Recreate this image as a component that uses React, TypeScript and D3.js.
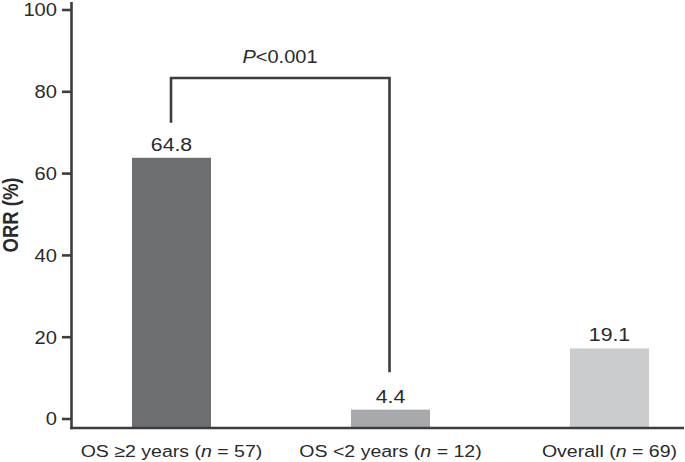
import React from "react";
import * as d3 from "d3";

const categories = ["OS \u22652 years", "OS <2 years", "Overall"];
const sampleSizes = [57, 12, 69];
const orrValues = [64.8, 4.4, 19.1];
const valueLabels = ["64.8", "4.4", "19.1"];
const barColors = ["#6d6e71", "#a7a9ac", "#cbcccd"];
const yTicks = [0, 20, 40, 60, 80, 100];
const pLabel = "<0.001";

const W = 685;
const H = 462;
const SX = 1.15;
const FONT = "'Liberation Sans', Arial, Helvetica, sans-serif";
const AXIS = "#3d3d3f";
const TEXT = "#2a2a2b";

export default function App() {
  const axisX = 71.5;
  const baseY = 428;
  const yAxis = d3.scaleLinear().domain([0, 100]).range([419, 10]);
  const yBar = d3.scaleLinear().domain([0, 100]).range([baseY, 11]);
  const x = d3.scalePoint<string>().domain(categories).range([171.5, 609.5]);
  const barW = 79;

  const c0 = x(categories[0])!;
  const c1 = x(categories[1])!;
  const bracketTop = 78;
  const leftEnd = yBar(orrValues[0]) - 35;
  const rightEnd = yBar(orrValues[1]) - 37.5;

  const stretch = (tx: number, ty: number) => `translate(${tx},${ty}) scale(${SX},1)`;

  return (
    <svg
      width={W}
      height={H}
      viewBox={`0 0 ${W} ${H}`}
      style={{ position: "absolute", left: 0, top: 0, background: "#fff" }}
      fontFamily={FONT}
    >
      {/* bars */}
      {categories.map((c, i) => {
        const top = yBar(orrValues[i]);
        return (
          <g key={c}>
            <rect x={x(c)! - barW / 2} y={top} width={barW} height={baseY - top} fill={barColors[i]} />
            <text
              transform={stretch(x(c)!, top - 7)}
              textAnchor="middle"
              fontSize={18.5}
              fill={TEXT}
            >
              {valueLabels[i]}
            </text>
            <text
              transform={stretch(x(c)!, 457)}
              textAnchor="middle"
              fontSize={17}
              fill={TEXT}
            >
              {c} (<tspan fontStyle="italic">n</tspan> = {sampleSizes[i]})
            </text>
          </g>
        );
      })}

      {/* y axis */}
      <line x1={axisX} x2={axisX} y1={2} y2={baseY + 1.3} stroke={AXIS} strokeWidth={2.6} />
      {yTicks.map((t) => (
        <g key={t}>
          <line x1={62} x2={axisX} y1={yAxis(t)} y2={yAxis(t)} stroke={AXIS} strokeWidth={2.6} />
          <text
            transform={stretch(57, yAxis(t) + 6.3)}
            textAnchor="end"
            fontSize={17.5}
            fill={TEXT}
          >
            {t}
          </text>
        </g>
      ))}
      {/* x axis */}
      <line x1={axisX - 1.3} x2={684} y1={baseY} y2={baseY} stroke={AXIS} strokeWidth={2.6} />

      <text
        transform={`translate(18.3,215) scale(${SX},1) rotate(-90)`}
        textAnchor="middle"
        fontSize={18.5}
        fontWeight="bold"
        fill={TEXT}
      >
        ORR (%)
      </text>

      {/* significance bracket */}
      <path
        d={`M${c0 - 0.5},${leftEnd} V${bracketTop} H${c1 - 1} V${rightEnd}`}
        fill="none"
        stroke={AXIS}
        strokeWidth={2.6}
      />
      <text
        transform={`translate(${(c0 + c1) / 2 - 1},${bracketTop - 15.5}) scale(1.08,1)`}
        textAnchor="middle"
        fontSize={18.5}
        fill={TEXT}
      >
        <tspan fontStyle="italic">P</tspan>
        {pLabel}
      </text>
    </svg>
  );
}
